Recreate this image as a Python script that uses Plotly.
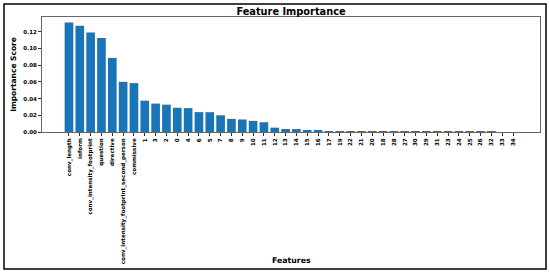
import plotly.graph_objects as go

features = ["conv_length", "inform", "conv_intensity_footprint", "question", "directive",
            "conv_intensity_footprint_second_person", "commissive",
            "1", "3", "2", "0", "4", "6", "5", "7", "8", "9", "10", "11", "12", "13", "14",
            "15", "16", "17", "19", "22", "21", "20", "18", "28", "27", "30", "29", "31",
            "23", "24", "25", "26", "32", "33", "34"]
scores = [0.131, 0.127, 0.119, 0.1125, 0.0887, 0.0600, 0.0585,
          0.0375, 0.0340, 0.0327, 0.0290, 0.0286, 0.0238, 0.0237, 0.0200, 0.0157, 0.0150,
          0.0133, 0.0117, 0.0052, 0.0036, 0.0035, 0.0024, 0.0016, 0.0012, 0.0008, 0.0003,
          0.0002, 0.0001, 0.0001, 0.00008, 0.00006, 0.00005, 0.00004, 0.00003, 0.00003,
          0.00002, 0.00002, 0.00001, 0.00001, 0.0, 0.0]
y_ticks = [0.0, 0.02, 0.04, 0.06, 0.08, 0.10, 0.12]

FONT = "DejaVu Sans"
fig = go.Figure(go.Bar(x=features, y=scores, marker=dict(color="#1a75b8", line=dict(width=0)),
                       hoverinfo="skip"))

L, R, T, B = 42, 10, 17, 142
W, H = 550, 274
pw, ph = W - L - R, H - T - B

def px_x(p):
    return (p - L) / pw

def px_y(p):
    return (H - B - p) / ph

fig.update_layout(
    width=W, height=H,
    margin=dict(l=L, r=R, t=T, b=B, autoexpand=False),
    paper_bgcolor="white", plot_bgcolor="white",
    bargap=0.2, showlegend=False,
    font=dict(family=FONT, color="black"),
    xaxis=dict(type="category", range=[-2.49, len(features) - 1 + 2.49], automargin=False,
               tickangle=-90, tickfont=dict(size=5.6, family=FONT, weight="bold", color="black"),
               ticks="outside", ticklen=3, tickwidth=0.8, tickcolor="#333",
               showline=True, linecolor="#666", linewidth=1, mirror=True,
               showgrid=False, zeroline=False),
    yaxis=dict(range=[0, 0.1376], tickvals=y_ticks, tickformat=".2f", automargin=False,
               tickfont=dict(size=5.5, family=FONT, weight="bold", color="black"),
               ticks="outside", ticklen=3, tickwidth=0.8, tickcolor="#333",
               showline=True, linecolor="#666", linewidth=1, mirror=True,
               showgrid=False, zeroline=False,
               title=dict(text="<b>Importance Score</b>", font=dict(size=7.5), standoff=5)),
    title=dict(text="<b>Feature Importance</b>", font=dict(size=9.8), x=0.5 * (L + W - R) / W,
               xanchor="center", y=1 - 12 / H, yanchor="middle", automargin=False),
    shapes=[dict(type="rect", xref="paper", yref="paper",
                 x0=px_x(4), x1=px_x(546), y0=px_y(269), y1=px_y(4),
                 line=dict(color="black", width=1.5), fillcolor="rgba(0,0,0,0)", layer="above")],
)
fig.add_annotation(text="<b>Features</b>", xref="paper", yref="paper",
                   x=0.5, y=px_y(260), xanchor="center", yanchor="middle",
                   showarrow=False, font=dict(size=7.8, family=FONT, color="black"))

fig.write_html("out.html", config={"displayModeBar": False},
               post_script="document.body.style.margin='0';")
